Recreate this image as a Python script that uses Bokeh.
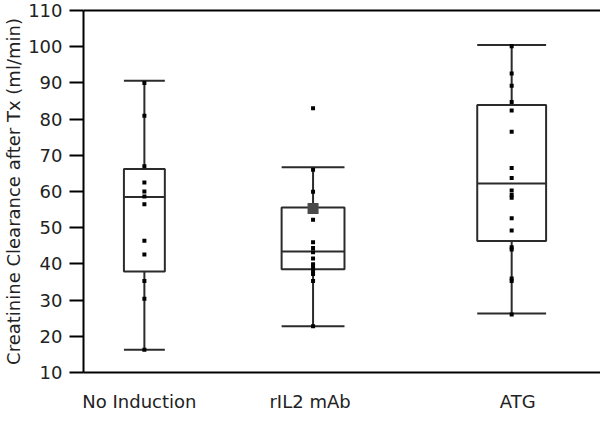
from bokeh.plotting import figure
from bokeh.models import Range1d, FixedTicker, SingleIntervalTicker, ColumnDataSource, LinearAxis
from bokeh.embed import file_html
from bokeh.resources import INLINE

# ---- data ----
groups = ["No Induction", "rIL2 mAb", "ATG"]
lower = [16.3, 22.8, 26.3]
q1 = [37.9, 38.5, 46.3]
median = [58.5, 43.4, 62.2]
q3 = [66.2, 55.6, 83.9]
upper = [90.6, 66.7, 100.5]
points_no_induction = [90.0, 80.9, 67.0, 62.5, 60.0, 58.6, 56.5, 46.4, 42.6, 35.3, 30.4, 16.3]
points_ril2 = [83.0, 66.0, 59.9, 52.2, 46.0, 44.4, 43.2, 41.5, 39.9, 39.0, 38.1, 37.2, 35.3, 22.8]
points_atg = [100.1, 92.6, 89.2, 84.7, 82.4, 76.5, 66.5, 63.7, 60.3, 59.0, 58.3, 52.6,
              49.2, 44.6, 44.0, 36.0, 35.3, 26.0]
ril2_marker = [55.3]

# ---- layout constants (horizontal group placement, box widths) ----
centers = [61, 230, 429]
widths = [41, 63, 69]
label_pos = [56, 227, 435]

FONT = "DejaVu Sans"
LINE = "#2b2b2b"

p = figure(width=600, height=414, output_backend="svg", toolbar_location=None,
           x_range=Range1d(0, 518), y_range=Range1d(10, 110),
           min_border_left=82, min_border_right=0, min_border_top=10, min_border_bottom=39)
p.outline_line_color = None
p.grid.visible = False
p.background_fill_color = "white"
p.border_fill_color = "white"

# boxes
src = ColumnDataSource(dict(
    left=[c - w / 2 for c, w in zip(centers, widths)],
    right=[c + w / 2 for c, w in zip(centers, widths)],
    x=centers, lower=lower, q1=q1, med=median, q3=q3, upper=upper))
p.quad(left="left", right="right", bottom="q1", top="q3", source=src,
       fill_color=None, line_color=LINE, line_width=2)
p.segment(x0="left", x1="right", y0="med", y1="med", source=src, line_color=LINE, line_width=2)
p.segment(x0="x", x1="x", y0="q3", y1="upper", source=src, line_color=LINE, line_width=2)
p.segment(x0="x", x1="x", y0="lower", y1="q1", source=src, line_color=LINE, line_width=2)
p.segment(x0="left", x1="right", y0="upper", y1="upper", source=src, line_color=LINE, line_width=2)
p.segment(x0="left", x1="right", y0="lower", y1="lower", source=src, line_color=LINE, line_width=2)

# individual points
for c, pts in zip(centers, [points_no_induction, points_ril2, points_atg]):
    p.scatter([c] * len(pts), pts, marker="square", size=4, color="black", line_width=0)
p.scatter([centers[1]], ril2_marker, marker="square", size=11, color="#4a4a4a", line_width=0)

# top frame line as an axis without ticks/labels
top = LinearAxis(ticker=FixedTicker(ticks=[]), axis_line_color="black", axis_line_width=2,
                 major_tick_line_color=None, minor_tick_line_color=None,
                 major_tick_out=0, major_tick_in=0, major_label_text_font_size="0px",
                 major_label_standoff=0)
p.add_layout(top, "above")

# y axis
ya = p.yaxis[0]
ya.ticker = SingleIntervalTicker(interval=10)
ya.axis_line_color = "black"
ya.axis_line_width = 2
ya.major_tick_line_color = "black"
ya.major_tick_line_width = 2
ya.major_tick_out = 14
ya.major_tick_in = 0
ya.minor_tick_line_color = None
ya.major_label_standoff = 7
ya.major_label_text_font = FONT
ya.major_label_text_font_size = "18px"
ya.major_label_text_color = "#222222"
ya.axis_label = "Creatinine Clearance after Tx (ml/min)"
ya.axis_label_text_font = FONT
ya.axis_label_text_font_size = "18px"
ya.axis_label_text_font_style = "normal"
ya.axis_label_text_color = "#222222"
ya.axis_label_standoff = 1

# x axis
xa = p.below[0]
xa.ticker = FixedTicker(ticks=label_pos)
xa.major_label_overrides = {lp: g for lp, g in zip(label_pos, groups)}
xa.axis_line_color = "black"
xa.axis_line_width = 2
xa.major_tick_line_color = None
xa.major_tick_out = 0
xa.major_tick_in = 0
xa.minor_tick_line_color = None
xa.major_label_standoff = 18
xa.major_label_text_font = FONT
xa.major_label_text_font_size = "18px"
xa.major_label_text_color = "#222222"

open("out.html", "w").write(file_html(p, INLINE))
